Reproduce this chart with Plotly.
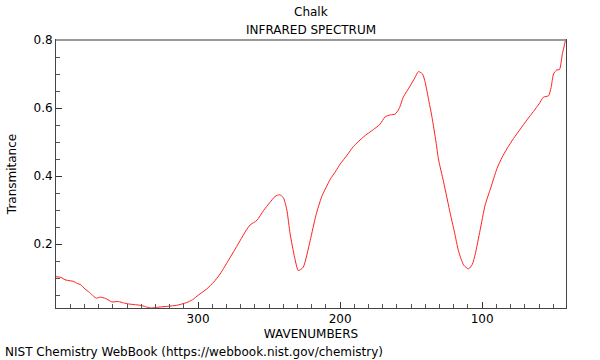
import plotly.graph_objects as go

wavenumber = [400.0, 396.5, 393.7, 390.1, 387.5, 385.4, 382.5, 379.6, 376.5, 373.7, 371.5, 369.0, 365.0,
              360.8, 356.1, 352.5, 349.1, 345.0, 340.8, 337.0, 333.8, 330.0, 326.8, 321.0, 315.0,
              308.0, 304.0, 299.8, 293.9, 289.0, 284.5, 277.5, 270.4, 266.5, 263.4, 258.5, 254.0,
              249.5, 245.8, 242.5, 239.9, 237.5, 235.2, 232.0, 229.4, 226.0, 221.1, 217.0, 212.9,
              207.0, 203.0, 200.0, 195.0, 190.6, 183.6, 176.5, 172.0, 168.3, 164.5, 161.3, 158.5,
              155.4, 150.7, 147.5, 144.9, 142.0, 140.1, 137.5, 135.4, 132.5, 130.8, 127.3, 125.0,
              122.5, 119.5, 116.7, 113.0, 109.6, 107.0, 104.9, 101.5, 97.9, 94.0, 89.6, 86.0, 82.6,
              78.0, 73.2, 68.5, 63.9, 60.0, 56.8, 53.3, 51.5, 49.8, 47.5, 45.6, 43.5, 41.3]
transmittance = [0.104, 0.102, 0.095, 0.092, 0.090, 0.085, 0.080, 0.068, 0.058, 0.047, 0.041, 0.044,
                 0.040, 0.030, 0.031, 0.027, 0.024, 0.022, 0.020, 0.016, 0.012, 0.013, 0.015, 0.017,
                 0.020, 0.028, 0.036, 0.050, 0.068, 0.088, 0.112, 0.160, 0.210, 0.238, 0.256,
                 0.270, 0.298, 0.322, 0.340, 0.345, 0.336, 0.300, 0.230, 0.160, 0.122, 0.132,
                 0.210, 0.285, 0.340, 0.390, 0.415, 0.435, 0.462, 0.487, 0.515, 0.537, 0.552,
                 0.574, 0.580, 0.582, 0.598, 0.633, 0.665, 0.688, 0.707, 0.700, 0.675, 0.620,
                 0.575, 0.500, 0.450, 0.385, 0.340, 0.290, 0.235, 0.180, 0.138, 0.127, 0.140,
                 0.170, 0.240, 0.315, 0.365, 0.422, 0.455, 0.480, 0.510, 0.538, 0.565, 0.590,
                 0.612, 0.632, 0.636, 0.660, 0.700, 0.712, 0.713, 0.760, 0.800]

x_ticks = [300, 200, 100]

fig = go.Figure()
fig.add_trace(go.Scatter(x=wavenumber, y=transmittance, mode="lines",
                         line=dict(color="#ff2020", width=1, shape="spline", smoothing=0.6),
                         hoverinfo="skip", showlegend=False))

axis_font = dict(family="DejaVu Sans", size=12, color="#000")
fig.update_layout(
    width=600, height=360,
    margin=dict(l=56, r=34, t=40, b=52, autoexpand=False),
    paper_bgcolor="white", plot_bgcolor="white",
    font=axis_font,
    xaxis=dict(range=[400, 41], autorange=False, tickvals=x_ticks, automargin=False,
               ticks="inside", ticklen=6, tickcolor="#333", tickwidth=1,
               minor=dict(dtick=10, tick0=0, ticks="inside", ticklen=4, tickcolor="#555"),
               showgrid=False, zeroline=False, showline=True, linecolor="#444", linewidth=1,
               mirror=True, title=dict(text="WAVENUMBERS", standoff=4, font=axis_font)),
    yaxis=dict(range=[min(transmittance), max(transmittance)], autorange=False, automargin=False,
               dtick=0.2, tick0=0, ticks="inside", ticklen=6, tickcolor="#333",
               minor=dict(dtick=0.05, tick0=0, ticks="inside", ticklen=4, tickcolor="#555"),
               showgrid=False, zeroline=False, showline=True, linecolor="#444", linewidth=1,
               mirror=True, title=dict(text="Transmitance", standoff=14, font=axis_font)),
    shapes=[dict(type="line", xref="paper", yref="paper", x0=0, x1=1, y0=1, y1=1,
                 line=dict(color="#999", width=2))],
    annotations=[
        dict(text="Chalk", xref="paper", yref="paper", x=0.5, y=1, yshift=28,
             showarrow=False, xanchor="center", yanchor="middle", font=axis_font),
        dict(text="INFRARED SPECTRUM", xref="paper", yref="paper", x=0.5, y=1, yshift=10,
             showarrow=False, xanchor="center", yanchor="middle", font=axis_font),
        dict(text="NIST Chemistry WebBook (https://webbook.nist.gov/chemistry)",
             xref="paper", yref="paper", x=0, y=0, xshift=-53, yshift=-44,
             showarrow=False, xanchor="left", yanchor="middle", font=axis_font),
    ],
)
fig.write_html("out.html", config={"displayModeBar": False},
               post_script="document.body.style.margin='0';document.body.style.overflow='hidden';")
